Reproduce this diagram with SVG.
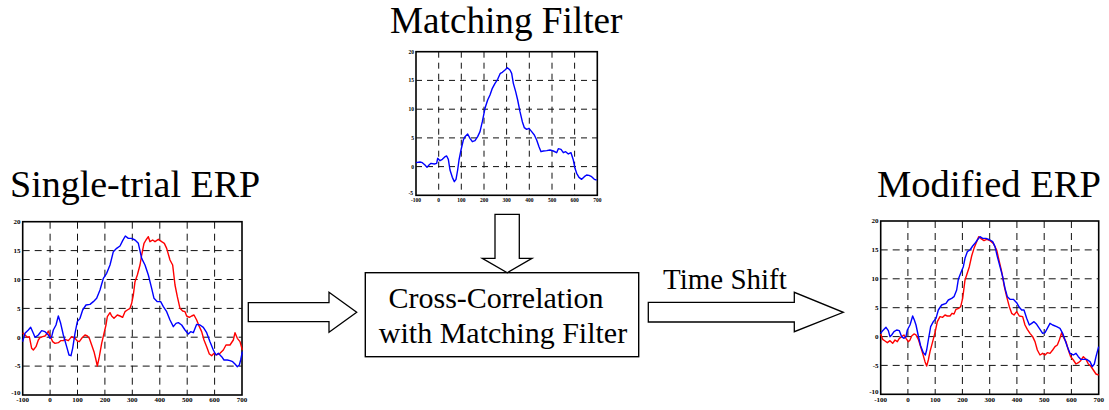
<svg xmlns="http://www.w3.org/2000/svg" width="1109" height="410" viewBox="0 0 1109 410" font-family="Liberation Serif, Times New Roman, DejaVu Serif, serif">
<style>
text{font-family:'Liberation Serif','Times New Roman','DejaVu Serif',serif}
.title{font-size:38px;fill:#000}
.lbl{font-size:30px;fill:#000}
.tk{font-weight:bold;font-size:7px;fill:#000}
.tks{font-weight:bold;font-size:5.5px;fill:#000}
.frame{fill:#fff;stroke:#000;stroke-width:1.6}
.grid{stroke:#111;stroke-width:1;stroke-dasharray:7 5;fill:none}
.grids{stroke:#111;stroke-width:1;stroke-dasharray:6 5;fill:none}
.blue{fill:none;stroke:#0000ff;stroke-width:1.4;stroke-linejoin:round;vector-effect:non-scaling-stroke}
.red{fill:none;stroke:#ff0000;stroke-width:1.4;stroke-linejoin:round;vector-effect:non-scaling-stroke}
.arrow{fill:#fff;stroke:#000;stroke-width:1.3}
.box{fill:#fff;stroke:#000;stroke-width:1.4}
</style>

<!-- Single-trial ERP -->
<g id="single-trial-erp">
<text class="title" x="10" y="196.7">Single-trial ERP</text>
<rect class="frame" x="22.7" y="221.7" width="219.3" height="173.3"/>
<path class="grid" d="M22.7 250.6H242M22.7 279.5H242M22.7 308.4H242M22.7 337.2H242M22.7 366.1H242M50.1 221.7V395M77.5 221.7V395M104.9 221.7V395M132.3 221.7V395M159.8 221.7V395M187.2 221.7V395M214.6 221.7V395"/>
<g text-anchor="end" class="tk">
<text class="tk" x="20.5" y="224">20</text><text class="tk" x="20.5" y="252.9">15</text><text class="tk" x="20.5" y="281.8">10</text><text class="tk" x="20.5" y="310.7">5</text><text class="tk" x="20.5" y="339.5">0</text><text class="tk" x="20.5" y="368.4">-5</text><text class="tk" x="20.5" y="395">-10</text>
</g>
<g text-anchor="middle">
<text class="tk" x="22.7" y="402">-100</text><text class="tk" x="50.1" y="402">0</text><text class="tk" x="77.5" y="402">100</text><text class="tk" x="104.9" y="402">200</text><text class="tk" x="132.3" y="402">300</text><text class="tk" x="159.8" y="402">400</text><text class="tk" x="187.2" y="402">500</text><text class="tk" x="214.6" y="402">600</text><text class="tk" x="242" y="402">700</text>
</g>
<g transform="translate(0,210) scale(0.33333)">
<polyline class="red" points="68,368 75,375 82,382 88,380 95,415 100,420 108,410 115,390 120,383 128,380 135,378 140,372 145,363 150,378 158,395 165,400 175,398 182,392 190,392 195,388 205,392 215,380 225,385 232,393 238,395 245,385 255,375 262,378 268,385 275,405 282,425 288,450 292,468 298,440 305,400 312,370 318,345 322,320 330,308 335,318 342,325 352,315 360,318 368,322 375,305 382,300 390,295 395,280 400,255 405,215 412,195 420,165 425,135 432,100 438,90 445,80 450,95 458,90 465,95 475,88 485,95 493,100 500,115 510,150 518,165 525,225 532,260 540,295 548,303 555,305 560,318 568,322 575,318 582,315 590,330 598,350 605,365 612,390 620,410 628,432 635,437 642,430 650,435 660,430 670,420 678,405 690,405 700,390 705,368 712,385 720,395 727,420"/>
<polyline class="blue" points="68,395 75,370 85,360 92,352 100,370 105,382 115,375 125,362 135,365 145,375 150,385 155,380 160,360 168,345 175,318 182,340 190,375 200,410 207,435 213,437 218,415 225,370 232,335 240,325 248,300 258,285 270,283 280,275 290,265 300,240 310,205 320,190 330,165 340,125 350,115 360,108 368,92 376,78 385,85 395,85 405,90 415,100 425,145 435,165 445,195 455,235 462,265 472,275 482,275 490,290 500,305 510,330 520,350 528,340 535,338 545,345 555,360 565,372 572,365 580,368 590,343 600,345 610,352 620,368 630,395 640,420 648,435 655,430 665,440 672,450 682,450 690,452 698,455 705,462 712,470 718,465 722,450 727,425"/>
</g>
</g>

<!-- Matching Filter -->
<g id="matching-filter">
<text class="title" x="390" y="33.2" style="font-size:37.2px">Matching Filter</text>
<rect class="frame" x="416" y="51.7" width="181.3" height="143.6"/>
<path class="grids" d="M416 80.4H597.3M416 109.2H597.3M416 137.9H597.3M416 166.6H597.3M438.7 51.7V195.3M461.3 51.7V195.3M484 51.7V195.3M506.6 51.7V195.3M529.3 51.7V195.3M552 51.7V195.3M574.6 51.7V195.3"/>
<g text-anchor="end">
<text class="tks" x="414" y="53.7">20</text><text class="tks" x="414" y="82.4">15</text><text class="tks" x="414" y="111.2">10</text><text class="tks" x="414" y="139.9">5</text><text class="tks" x="414" y="168.6">0</text><text class="tks" x="413" y="195">-5</text>
</g>
<g text-anchor="middle">
<text class="tks" x="416" y="201.5">-100</text><text class="tks" x="438.7" y="201.5">0</text><text class="tks" x="461.3" y="201.5">100</text><text class="tks" x="484" y="201.5">200</text><text class="tks" x="506.6" y="201.5">300</text><text class="tks" x="529.3" y="201.5">400</text><text class="tks" x="552" y="201.5">500</text><text class="tks" x="574.6" y="201.5">600</text><text class="tks" x="597.3" y="201.5">700</text>
</g>
<g transform="translate(395,40) scale(0.33333)">
<polyline class="blue" points="63,368 75,366 82,368 90,375 96,382 102,375 108,370 118,372 125,370 128,355 135,362 142,358 150,350 155,348 160,358 165,390 172,412 178,425 183,418 188,390 192,360 198,330 205,300 210,290 218,282 225,295 232,305 240,302 248,290 255,275 262,245 270,205 278,180 285,165 292,145 300,130 308,118 316,100 322,97 330,90 337,83 345,90 350,100 355,130 362,155 368,180 375,215 382,245 388,263 395,268 402,265 410,275 418,285 425,300 432,320 438,335 445,333 455,332 465,330 475,333 485,338 490,326 498,328 505,338 512,335 520,342 528,338 535,360 540,385 545,400 552,412 560,418 568,410 575,405 582,406 590,410 598,418 605,420"/>
</g>
</g>

<!-- Cross-Correlation node -->
<g id="cross-correlation">
<rect class="box" x="365.3" y="272.7" width="273.4" height="84"/>
<text class="lbl" x="496" y="308.3" text-anchor="middle">Cross-Correlation</text>
<text class="lbl" x="503" y="343.3" text-anchor="middle">with Matching Filter</text>
</g>

<!-- Modified ERP -->
<g id="modified-erp">
<text class="title" x="877" y="196.7" style="font-size:38.6px">Modified ERP</text>
<rect class="frame" x="880.7" y="221" width="218" height="173.3"/>
<path class="grid" d="M880.7 249.9H1098.7M880.7 278.8H1098.7M880.7 307.7H1098.7M880.7 336.6H1098.7M880.7 365.4H1098.7M907.9 221V394.3M935.2 221V394.3M962.4 221V394.3M989.7 221V394.3M1016.9 221V394.3M1044.2 221V394.3M1071.4 221V394.3"/>
<g text-anchor="end">
<text class="tk" x="878.5" y="223.3">20</text><text class="tk" x="878.5" y="252.2">15</text><text class="tk" x="878.5" y="281.1">10</text><text class="tk" x="878.5" y="310">5</text><text class="tk" x="878.5" y="338.9">0</text><text class="tk" x="878.5" y="367.7">-5</text><text class="tk" x="878.5" y="394.3">-10</text>
</g>
<g text-anchor="middle">
<text class="tk" x="880.7" y="401.5">-100</text><text class="tk" x="907.9" y="401.5">0</text><text class="tk" x="935.2" y="401.5">100</text><text class="tk" x="962.4" y="401.5">200</text><text class="tk" x="989.7" y="401.5">300</text><text class="tk" x="1016.9" y="401.5">400</text><text class="tk" x="1044.2" y="401.5">500</text><text class="tk" x="1071.4" y="401.5">600</text><text class="tk" x="1098.7" y="401.5">700</text>
</g>
<g transform="translate(860,210) scale(0.33333)">
<polyline class="red" points="62,372 68,388 75,393 82,398 90,392 98,400 105,390 112,395 118,385 125,380 132,375 138,385 145,395 150,390 155,378 162,372 168,375 175,388 182,410 188,430 195,455 200,468 205,450 210,425 218,395 225,368 232,335 240,320 248,322 255,315 262,318 270,318 276,310 282,312 288,298 296,295 302,290 308,265 315,210 320,195 328,170 335,138 342,115 350,95 356,80 362,85 372,92 380,88 390,92 400,100 410,120 418,155 425,185 432,225 440,260 448,290 455,310 462,315 470,305 478,318 488,320 495,345 502,358 510,370 518,380 525,395 532,420 540,435 548,430 555,435 562,428 570,430 578,420 585,410 592,405 598,390 605,368 612,385 618,395 625,420 632,440 640,450 648,462 655,458 662,452 670,440 678,448 685,462 692,468 700,480 708,492 716,495"/>
<polyline class="blue" points="62,370 68,362 75,355 78,352 85,362 90,380 95,375 102,365 110,360 118,362 125,380 132,385 138,380 142,360 150,345 158,318 163,330 168,345 175,378 182,408 190,428 196,435 200,420 205,390 212,350 220,335 228,325 235,300 245,285 258,280 265,270 275,265 282,260 290,240 295,208 302,190 310,170 315,145 322,125 330,120 338,108 345,100 352,90 360,80 368,85 378,85 390,90 398,95 405,110 412,140 420,170 428,200 435,235 442,260 450,268 460,268 470,278 478,292 485,300 492,300 500,325 508,345 515,340 522,335 530,343 540,358 548,370 555,368 562,355 570,340 578,345 590,350 600,355 608,370 615,390 622,410 630,430 640,435 648,430 655,440 662,448 670,448 680,448 690,455 697,470 703,462 708,440 716,410"/>
</g>
</g>

<!-- Connectors -->
<g id="connectors">
<polygon class="arrow" points="248.3,302.7 329,302.7 329,292.3 356.7,312.3 329,332.3 329,321.7 248.3,321.7"/>
<polygon class="arrow" points="495,214.3 519.3,214.3 519.3,258.3 532,258.3 507.3,272.7 482.3,258.3 495,258.3"/>
<polygon class="arrow" points="648.3,302.3 794.3,302.3 794.3,292.3 843.3,312.3 794.3,331.7 794.3,322 648.3,322"/>
<text class="lbl" x="663" y="289.3" style="font-size:29px">Time Shift</text>
</g>
</svg>
